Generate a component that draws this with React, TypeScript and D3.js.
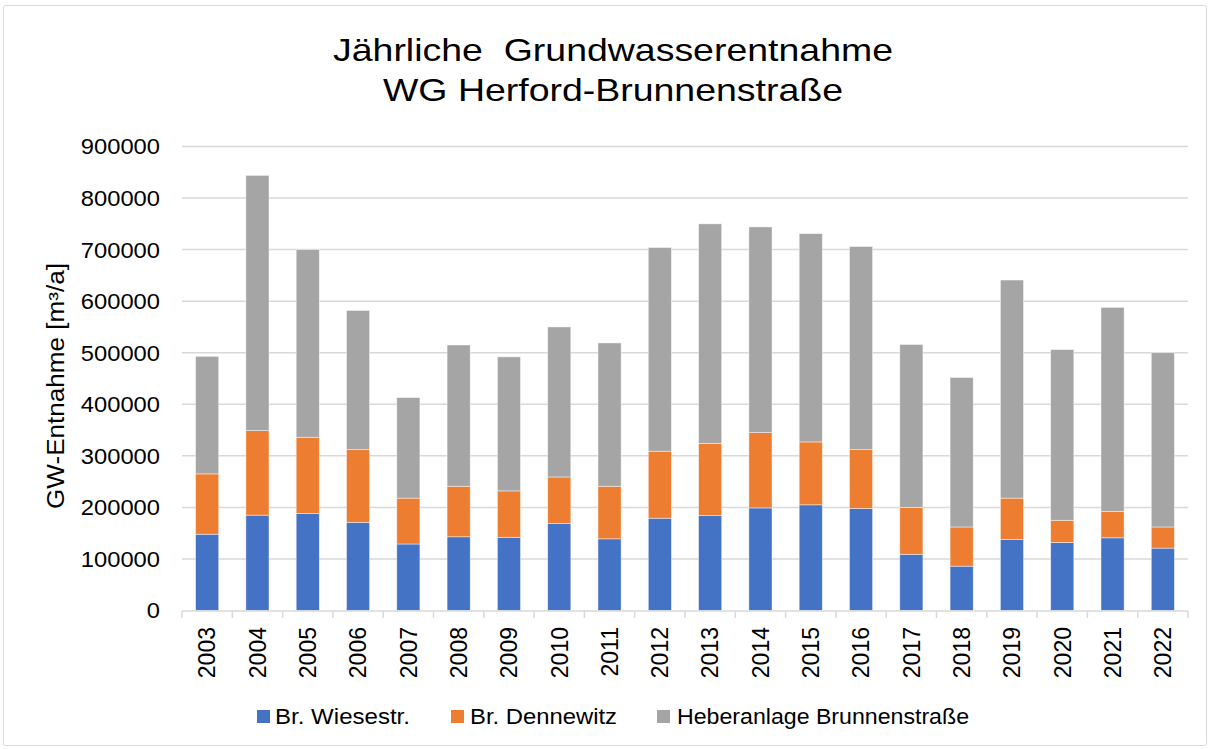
import React from "react";
import * as d3 from "d3";

const years = ["2003","2004","2005","2006","2007","2008","2009","2010","2011","2012","2013","2014","2015","2016","2017","2018","2019","2020","2021","2022"];
const wiesestr = [148000,185000,188000,171000,129000,143000,142000,169000,139000,179000,184000,199000,205000,198000,109000,86000,138000,132000,141000,121000];
const dennewitz = [117000,164000,148000,141000,89000,98000,90000,90000,102000,130000,140000,146000,122000,114000,91000,76000,80000,43000,51000,41000];
const heber = [228000,495000,364000,270000,195000,274000,260000,291000,278000,395000,426000,399000,404000,394000,316000,290000,423000,331000,396000,338000];
const seriesNames = ["Br. Wiesestr.", "Br. Dennewitz", "Heberanlage Brunnenstraße"];
const seriesKeys = ["w", "d", "h"];
const colors = ["#4472C4", "#ED7D31", "#A5A5A5"];
const yTicks = [0,100000,200000,300000,400000,500000,600000,700000,800000,900000];
const titleLines = ["Jährliche  Grundwasserentnahme", "WG Herford-Brunnenstraße"];
const yTitle = "GW-Entnahme [m³/a]";

const FONT = "'Liberation Sans', Arial, Helvetica, sans-serif";

export default function App() {
  const W = 1210, H = 749;
  const left = 182, right = 1188, top = 146.5, bottom = 610.5;
  const x = d3.scaleBand<string>().domain(years).range([left, right]).paddingInner(0.54).paddingOuter(0.27);
  const y = d3.scaleLinear().domain([0, 900000]).range([bottom, top]);
  const rows = years.map((yr, i) => ({ year: yr, w: wiesestr[i], d: dennewitz[i], h: heber[i] }));
  const stacked = d3.stack<any>().keys(seriesKeys)(rows);
  const step = (right - left) / years.length;
  const boundaries = d3.range(years.length + 1).map(i => left + i * step);

  const legendItems = [
    { x: 257, tx: 275, len: 135 },
    { x: 451, tx: 470, len: 147 },
    { x: 657, tx: 677, len: 292 },
  ];

  return (
    <svg width={W} height={H} style={{ display: "block", position: "absolute", left: 0, top: 0 }} fontFamily={FONT}>
      <rect x={0} y={0} width={W} height={H} fill="#fff" />
      <rect x={3.5} y={5.5} width={1203} height={740} fill="#fff" stroke="#D9D9D9" strokeWidth={1} rx={2} />
      {titleLines.map((t, i) => (
        <text key={i} x={W / 2 + 8} y={61 + i * 40} textAnchor="middle" fontSize={32} fill="#000"
          textLength={i === 0 ? 560 : 460} lengthAdjust="spacingAndGlyphs" style={{ whiteSpace: "pre" }}>{t}</text>
      ))}
      {yTicks.map(t => (
        <g key={t}>
          {t > 0 && <line x1={left} x2={right} y1={y(t)} y2={y(t)} stroke="#D9D9D9" strokeWidth={1.5} />}
          <text x={160} y={y(t)} dy="0.36em" textAnchor="end" fontSize={22} fill="#000"
            textLength={String(t).length * 13.2} lengthAdjust="spacingAndGlyphs">{t}</text>
        </g>
      ))}
      {stacked.map((s, si) => (
        <g key={si} fill={colors[si]}>
          {s.map((d, i) => (
            <rect key={i} x={x(years[i])} width={x.bandwidth()} y={y(d[1])} height={y(d[0]) - y(d[1])}
              stroke="#ffffff" strokeOpacity={0.6} strokeWidth={0.75} />
          ))}
        </g>
      ))}
      <line x1={left} x2={right} y1={611} y2={611} stroke="#D9D9D9" strokeWidth={1.5} />
      {boundaries.map((bx, i) => (
        <line key={i} x1={bx} x2={bx} y1={611} y2={618} stroke="#D9D9D9" strokeWidth={1.5} />
      ))}
      {years.map(yr => {
        const cx = (x(yr) as number) + x.bandwidth() / 2;
        return (
          <text key={yr} transform={`translate(${cx},627) rotate(-90)`} textAnchor="end" dy="0.36em"
            fontSize={23} fill="#000">{yr}</text>
        );
      })}
      <text transform={`translate(56,386) rotate(-90)`} textAnchor="middle" dy="0.36em" fontSize={23} fill="#000"
        textLength={246} lengthAdjust="spacingAndGlyphs">{yTitle}</text>
      {seriesNames.map((n, i) => (
        <g key={n}>
          <rect x={legendItems[i].x} y={710} width={13} height={13} fill={colors[i]} />
          <text x={legendItems[i].tx} y={724} fontSize={22} fill="#000"
            textLength={legendItems[i].len} lengthAdjust="spacingAndGlyphs">{n}</text>
        </g>
      ))}
    </svg>
  );
}
